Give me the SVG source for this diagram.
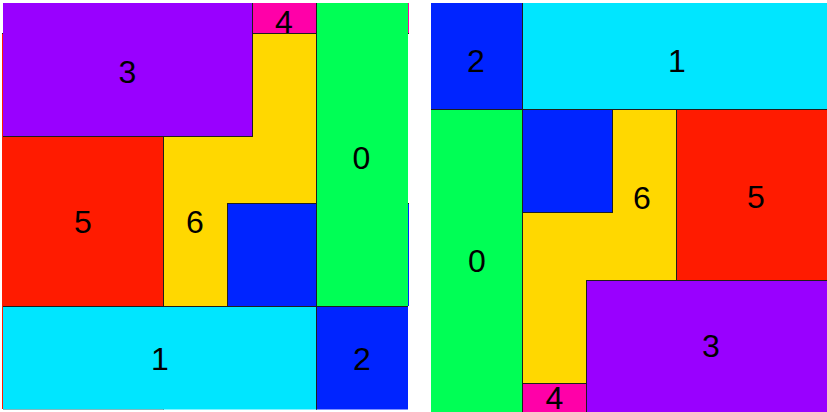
<svg xmlns="http://www.w3.org/2000/svg" width="827" height="412" viewBox="0 0 827 412">
<defs>
<style>
.b{stroke:#1e1e1e;stroke-width:1}
.t{font-family:"Liberation Sans",Arial,sans-serif;font-size:32px;fill:#000;text-anchor:middle}
.red{fill:#ff1b00}.yel{fill:#ffd800}.pnk{fill:#ff00a8}.blu{fill:#0024ff}.pur{fill:#9900ff}.grn{fill:#00ff55}.cyn{fill:#00e6ff}
</style>
<clipPath id="cl"><rect x="3" y="3" width="405" height="406.5"/></clipPath>
<clipPath id="cr"><rect x="431" y="3" width="396" height="409"/></clipPath>
</defs>
<rect width="827" height="412" fill="#fff"/>
<g id="left-panel">
<g clip-path="url(#cl)">
<g id="L5"><rect class="red b" x="-10" y="33.5" width="173.5" height="400"/></g>
<g id="L6"><rect class="yel b" x="163.5" y="33.5" width="153" height="273"/></g>
<g id="L4"><rect class="pnk b" x="252.5" y="-10" width="170" height="43.5"/></g>
<g id="Lsq"><rect class="blu b" x="227.5" y="203.5" width="190" height="103"/></g>
<g id="L3"><rect class="pur b" x="-10" y="-10" width="262.5" height="146.5"/></g>
<g id="L0"><rect class="grn b" x="316.5" y="-10" width="110" height="316.5"/></g>
<g id="L1"><rect class="cyn b" x="-10" y="306.5" width="326.5" height="120"/></g>
<g id="L2"><rect class="blu b" x="316.5" y="306.5" width="110" height="120"/></g>
</g>
<rect class="pnk" x="408" y="3" width="1" height="30"/><rect fill="#1e1e1e" x="408" y="33" width="1" height="1"/>
<rect class="blu" x="408" y="204" width="1" height="102"/><rect fill="#1e1e1e" x="408" y="203" width="1" height="1"/>
<rect class="red" x="2" y="34" width="1" height="375"/><rect fill="#1e1e1e" x="2" y="33" width="1" height="1"/>
<text class="t" x="127.5" y="83">3</text>
<text class="t" x="284" y="32.5">4</text>
<text class="t" x="361.5" y="169">0</text>
<text class="t" x="83" y="233">5</text>
<text class="t" x="195" y="233">6</text>
<text class="t" x="160" y="370">1</text>
<text class="t" x="362" y="370">2</text>
</g>
<g id="right-panel">
<g clip-path="url(#cr)">
<g id="R5"><rect class="red b" x="676.5" y="109.5" width="170" height="320"/></g>
<g id="R6"><rect class="yel b" x="522.5" y="109.5" width="154" height="274"/></g>
<g id="R4"><rect class="pnk b" x="420" y="383.5" width="166.5" height="40"/></g>
<g id="Rsq"><rect class="blu b" x="420" y="109.5" width="192.5" height="103"/></g>
<g id="R3"><rect class="pur b" x="586.5" y="280.5" width="260" height="150"/></g>
<g id="R0"><rect class="grn b" x="420" y="109.5" width="102.5" height="320"/></g>
<g id="R1"><rect class="cyn b" x="522.5" y="-10" width="320" height="119.5"/></g>
<g id="R2"><rect class="blu b" x="420" y="-10" width="102.5" height="119.5"/></g>
</g>
<text class="t" x="476" y="72">2</text>
<text class="t" x="677" y="72">1</text>
<text class="t" x="642" y="209">6</text>
<text class="t" x="756" y="208">5</text>
<text class="t" x="477" y="272">0</text>
<text class="t" x="711" y="357">3</text>
<text class="t" x="554.5" y="409">4</text>
</g>
</svg>
